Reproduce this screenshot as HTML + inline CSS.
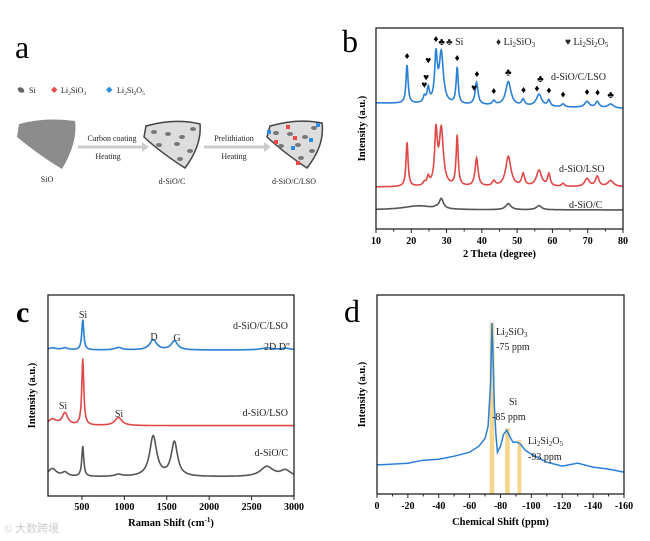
<!DOCTYPE html>
<html><head><meta charset="utf-8">
<style>
body{margin:0;background:#fff;}
svg{display:block;font-family:"Liberation Serif",serif;}
.tk{font-size:10px;font-weight:bold;}
.ax{font-size:10.5px;font-weight:bold;}
.lb{font-size:10px;fill:#222;}
.sm{font-size:8px;fill:#222;}
</style></head>
<body>
<svg id="fig" width="650" height="541" viewBox="0 0 650 541">
 <g>
  <text x="15" y="58" font-size="32">a</text>
  <g>
   <ellipse cx="21" cy="90" rx="3.5" ry="2.5" fill="#666" transform="rotate(30 21 90)"/>
   <text x="29" y="93" class="sm">Si</text>
   <rect x="52" y="87.5" width="4.5" height="4.5" fill="#e84a4a" transform="rotate(45 54.2 89.7)"/>
   <text x="61" y="93" class="sm">Li<tspan font-size="5.5" dy="2">2</tspan><tspan dy="-2">SiO</tspan><tspan font-size="5.5" dy="2">3</tspan></text>
   <rect x="107" y="87.5" width="4.5" height="4.5" fill="#2a8de0" transform="rotate(45 109.2 89.7)"/>
   <text x="117" y="93" class="sm">Li<tspan font-size="5.5" dy="2">2</tspan><tspan dy="-2">Si</tspan><tspan font-size="5.5" dy="2">2</tspan><tspan dy="-2">O</tspan><tspan font-size="5.5" dy="2">5</tspan></text>
  </g>
  <path d="M19 124 Q45 117 75 121 Q78 142 62 169 Q40 156 17 137 Z" fill="#8c8c8c"/>
  <text x="47" y="182" class="sm" text-anchor="middle">SiO</text>
  <path d="M78 147 H144" stroke="#ccc" stroke-width="3"/><path d="M142 142 L149 147 L142 152Z" fill="#ccc"/>
  <text x="112" y="141" class="sm" text-anchor="middle">Carbon coating</text>
  <text x="108" y="159" class="sm" text-anchor="middle">Heating</text>
  <g>
   <path d="M146 126 Q175 118 200 124 Q202 145 185 168 Q160 152 144 137 Z" fill="#ddd" stroke="#444" stroke-width="1.5"/>
   <g fill="#777">
    <ellipse cx="154" cy="132" rx="3" ry="2"/><ellipse cx="168" cy="134" rx="3" ry="2"/><ellipse cx="193" cy="129" rx="3" ry="2"/>
    <ellipse cx="182" cy="137" rx="3" ry="2"/><ellipse cx="159" cy="145" rx="3" ry="2"/><ellipse cx="177" cy="144" rx="3" ry="2"/>
    <ellipse cx="190" cy="151" rx="3" ry="2"/><ellipse cx="180" cy="159" rx="3" ry="2"/>
   </g>
  </g>
  <text x="172" y="184" class="sm" text-anchor="middle">d-SiO/C</text>
  <path d="M204 147 H266" stroke="#ccc" stroke-width="3"/><path d="M264 142 L271 147 L264 152Z" fill="#ccc"/>
  <text x="234" y="141" class="sm" text-anchor="middle">Prelithiation</text>
  <text x="234" y="159" class="sm" text-anchor="middle">Heating</text>
  <g>
   <path d="M270 126 Q298 118 322 123 Q325 145 307 168 Q283 152 267 137 Z" fill="#ddd" stroke="#444" stroke-width="1.5"/>
   <g fill="#777">
    <ellipse cx="276" cy="133" rx="3" ry="2"/><ellipse cx="290" cy="134" rx="3" ry="2"/><ellipse cx="314" cy="128" rx="3" ry="2"/>
    <ellipse cx="305" cy="137" rx="3" ry="2"/><ellipse cx="281" cy="146" rx="3" ry="2"/><ellipse cx="298" cy="145" rx="3" ry="2"/>
    <ellipse cx="312" cy="151" rx="3" ry="2"/><ellipse cx="301" cy="158" rx="3" ry="2"/>
   </g>
   <g fill="#e84a4a"><rect x="286" y="125" width="4" height="4"/><rect x="293" y="136" width="4" height="4"/><rect x="274" y="140" width="4" height="4"/><rect x="296" y="161" width="4" height="4"/></g>
   <g fill="#2a8de0"><rect x="267" y="130" width="4" height="4"/><rect x="316" y="123" width="4" height="4"/><rect x="309" y="138" width="4" height="4"/><rect x="291" y="146" width="4" height="4"/></g>
  </g>
  <text x="294" y="184" class="sm" text-anchor="middle">d-SiO/C/LSO</text>
 </g>
 <g id="pb"></g>
 <g id="pc"></g>
 <g id="pd"></g>
</svg>
<script>
// ---------- Panel b data (XRD) ----------
const xrdBaselines = [62.7, 20.9, 9.5];
const xrdColors = ["#2a7fd6","#e04848","#555555"];
const xrdNames = ["d-SiO/C/LSO","d-SiO/LSO","d-SiO/C"];
const xrdPeakPos = [18.8,23.7,24.8,27.0,28.5,33.0,38.5,43.4,47.5,51.7,56.2,59.0,63.0,69.8,72.7,76.5];
const xrdBlueH = [19,3,7,23,25,18,11,2,12,3,6,3,1.5,3,3,2];
const xrdRedH  = [22,1.5,4,26,28,25,14,2.5,15,6,8,6,1.5,4,5,3];
const xrdGrayH = [0,0,0,0.5,5,0,0,0,3,0,2,0,0,0,0,0];
const xrdWidth = [0.35,0.4,0.4,0.45,0.7,0.35,0.5,0.5,0.9,0.5,0.9,0.45,0.5,0.8,0.6,1.0];
const xrdTicks = [10,20,30,40,50,60,70,80];
// [position, symbol, offset above blue curve]
const xrdMarkers = [[18.8,"♦",5],[23.7,"♥",5],[24.2,"♥",9],[24.8,"♥",13],[27,"♦",5],[28.6,"♣",5],[33,"♦",5],[37.8,"♥",5],[38.6,"♦",5],[43.4,"♦",5],[47.5,"♣",5],[51.8,"♦",5],[55.6,"♦",5],[56.6,"♣",9],[59,"♦",5],[63,"♦",5],[69.8,"♦",5],[72.8,"♦",5],[76.5,"♣",5]];

// ---------- Panel c data (Raman) ----------
const ramBaselines = [72.6, 35, 9.5];
const ramColors = ["#2a7fd6","#e04848","#555555"];
const ramNames = ["d-SiO/C/LSO","d-SiO/LSO","d-SiO/C"];
const ramPeakPos = [150,300,510,930,1340,1590,2680,2900];
const ramBlueH = [1,1,15,1.2,5,4.5,1,0.8];
const ramRedH  = [3,6,33,4,0,0,0,0];
const ramGrayH = [4,2,15,1,20,17,5,3];
const ramWidth = [60,40,14,50,50,45,90,70];
const ramTicks = [500,1000,1500,2000,2500,3000];

// ---------- Panel d data (NMR) ----------
const nmrShift = [0,-10,-20,-30,-40,-50,-60,-66,-70,-72,-73.5,-74.5,-75.5,-76,-77,-78,-80,-82,-84,-86,-88,-91,-93,-96,-100,-110,-120,-130,-140,-150,-160];
const nmrInt   = [14.6,15,15.5,17,17.5,19,21,24,28,34,55,86,60,45,30,21,24,30,32,29,26,26,25,22,20,16,14,15.5,13.5,12.5,11];
const nmrBands = [[-73,-76,86],[-83,-86,33],[-91,-93.5,27]];
const nmrTicks = [0,-20,-40,-60,-80,-100,-120,-140,-160];

const NS="http://www.w3.org/2000/svg";
function mk(parent,tag,attrs,text){const e=document.createElementNS(NS,tag);for(const k in attrs)e.setAttribute(k,attrs[k]);if(text!==undefined)e.textContent=text;parent.appendChild(e);return e;}
function lor(x,c,h,w){return h/(1+((x-c)/w)*((x-c)/w));}
function frame(g,X0,X1,Y0,Y1){const r=mk(g,'rect',{x:X0,y:Y0,width:X1-X0,height:Y1-Y0,fill:'none',stroke:'#222','stroke-width':1.3});

}
function ylab(g,x,y){const t=mk(g,'text',{x:x,y:y,class:'ax','text-anchor':'middle',transform:`rotate(-90 ${x} ${y})`},'Intensity (a.u.)');

}

// ---------- Panel b ----------
(function(){
 const g=document.getElementById('pb');
 const X0=376,X1=623,Y0=28,Y1=229;
 const sx=v=>X0+(v-10)/70*(X1-X0), sy=v=>Y1-v/100*(Y1-Y0);
 mk(g,'text',{x:342,y:52,'font-size':32},'b');
 const hs=[xrdBlueH,xrdRedH,xrdGrayH];
 function curve(s,x){
   let v=xrdBaselines[s]-(s===0?(x-10)*0.04:0);
   if(s===2)v+=lor(x,22,2,5);
   xrdPeakPos.forEach((c,i)=>v+=lor(x,c,hs[s][i],xrdWidth[i]));
   return v;
 }
 [2,1,0].forEach(s=>{
  let d='';
  for(let x=10;x<=80.001;x+=0.1){
   d+=(d?'L':'M')+sx(x).toFixed(1)+' '+sy(curve(s,x)).toFixed(1);
  }
  const p=mk(g,'path',{d:d,fill:'none',stroke:xrdColors[s],'stroke-width':1.6});
  
  
 });
 xrdMarkers.forEach(m=>{const t=mk(g,'text',{x:sx(m[0]),y:sy(curve(0,m[0])+m[2])+4,'font-size':10,'text-anchor':'middle'},m[1]);
  
  });
 frame(g,X0,X1,Y0,Y1);
 xrdTicks.forEach(t=>{mk(g,'line',{x1:sx(t),x2:sx(t),y1:Y1,y2:Y1+4,stroke:'#222'});
  const l=mk(g,'text',{x:sx(t),y:Y1+15,class:'tk','text-anchor':'middle'},t);
  
  });
 for(let t=15;t<80;t+=10)mk(g,'line',{x1:sx(t),x2:sx(t),y1:Y1,y2:Y1+2.5,stroke:'#222'});
 const xt=mk(g,'text',{x:(X0+X1)/2,y:257,class:'ax','text-anchor':'middle'},'2 Theta (degree)');
 
 
 ylab(g,365,(Y0+Y1)/2);
 const lg=mk(g,'g',{});
 
 
 lg.innerHTML='<text x="446" y="45" class="lb">♣ Si</text><text x="496" y="45" class="lb">♦ Li<tspan font-size="7" dy="2">2</tspan><tspan dy="-2">SiO</tspan><tspan font-size="7" dy="2">3</tspan></text><text x="565" y="45" class="lb">♥ Li<tspan font-size="7" dy="2">2</tspan><tspan dy="-2">Si</tspan><tspan font-size="7" dy="2">2</tspan><tspan dy="-2">O</tspan><tspan font-size="7" dy="2">5</tspan></text>';
 [[551,80],[559,172],[569,208]].forEach((p,i)=>{const t=mk(g,'text',{x:p[0],y:p[1],class:'lb'},xrdNames[i]);
  
  });
})();

// ---------- Panel c ----------
(function(){
 const g=document.getElementById('pc');
 const X0=48,X1=294,Y0=295,Y1=496;
 const sx=v=>X0+(v-100)/2900*(X1-X0), sy=v=>Y1-v/100*(Y1-Y0);
 mk(g,'text',{x:16,y:322,'font-size':30,'font-weight':'bold'},'c');
 const hs=[ramBlueH,ramRedH,ramGrayH];
 [2,1,0].forEach(s=>{
  let d='';
  for(let x=100;x<=3000;x+=5){
   let v=ramBaselines[s];
   ramPeakPos.forEach((c,i)=>v+=lor(x,c,hs[s][i],ramWidth[i]));
   d+=(d?'L':'M')+sx(x).toFixed(1)+' '+sy(v).toFixed(1);
  }
  const p=mk(g,'path',{d:d,fill:'none',stroke:ramColors[s],'stroke-width':1.6});
  
  
 });
 frame(g,X0,X1,Y0,Y1);
 ramTicks.forEach(t=>{mk(g,'line',{x1:sx(t),x2:sx(t),y1:Y1,y2:Y1+4,stroke:'#222'});
  const l=mk(g,'text',{x:sx(t),y:Y1+14,class:'tk','text-anchor':'middle'},t);
  
  });
 const xt=mk(g,'text',{x:171,y:526,class:'ax','text-anchor':'middle'});
 xt.innerHTML='Raman Shift (cm<tspan font-size="7" dy="-4">-1</tspan><tspan dy="4">)</tspan>';
 
 
 ylab(g,35,(Y0+Y1)/2);
 [[83,318,'Si'],[154,340,'D'],[177,341,'G'],[63,409,'Si'],[119,417,'Si']].forEach(a=>mk(g,'text',{x:a[0],y:a[1],class:'lb','text-anchor':'middle'},a[2]));
 mk(g,'text',{x:290,y:350,class:'lb','text-anchor':'end'},'2D D"');
 [[288,329],[288,416],[288,456]].forEach((p,i)=>{const t=mk(g,'text',{x:p[0],y:p[1],class:'lb','text-anchor':'end'},ramNames[i]);
  
  });
 mk(g,'text',{x:4,y:532,'font-size':11,fill:'#ccc'},'© 大数跨境');
})();

// ---------- Panel d ----------
(function(){
 const g=document.getElementById('pd');
 const X0=377,X1=624,Y0=295,Y1=494;
 const sx=v=>X0+(v-0)/(-160)*(X1-X0), sy=v=>Y1-v/100*(Y1-Y0);
 mk(g,'text',{x:344,y:322,'font-size':32},'d');
 nmrBands.forEach(b=>{const r=mk(g,'rect',{x:sx(b[0]),y:sy(b[2]),width:sx(b[1])-sx(b[0]),height:Y1-sy(b[2]),fill:'#f3cf7a',opacity:0.85});
  
  });
 let d='';
 nmrShift.forEach((x,i)=>{d+=(i?'L':'M')+sx(x).toFixed(1)+' '+sy(nmrInt[i]).toFixed(1);});
 const p=mk(g,'path',{d:d,fill:'none',stroke:'#2a7fd6','stroke-width':1.5});
 
 
 frame(g,X0,X1,Y0,Y1);
 nmrTicks.forEach(t=>{mk(g,'line',{x1:sx(t),x2:sx(t),y1:Y1,y2:Y1+4,stroke:'#222'});
  const l=mk(g,'text',{x:sx(t),y:Y1+15,class:'tk','text-anchor':'middle'},t);
  
  });
 for(let t=-10;t>-160;t-=20)mk(g,'line',{x1:sx(t),x2:sx(t),y1:Y1,y2:Y1+2.5,stroke:'#222'});
 const xt=mk(g,'text',{x:(X0+X1)/2,y:525,class:'ax','text-anchor':'middle'},'Chemical Shift (ppm)');
 
 
 ylab(g,365,(Y0+Y1)/2);
 const a=mk(g,'g',{});
 
 
 a.innerHTML='<text x="496" y="335" class="lb">Li<tspan font-size="7" dy="2">2</tspan><tspan dy="-2">SiO</tspan><tspan font-size="7" dy="2">3</tspan></text><text x="496" y="350" class="lb">-75 ppm</text><text x="509" y="405" class="lb">Si</text><text x="492" y="420" class="lb">-85 ppm</text><text x="528" y="444" class="lb">Li<tspan font-size="7" dy="2">2</tspan><tspan dy="-2">Si</tspan><tspan font-size="7" dy="2">2</tspan><tspan dy="-2">O</tspan><tspan font-size="7" dy="2">5</tspan></text><text x="528" y="460" class="lb">-93 ppm</text>';
})();
</script>
</body></html>
